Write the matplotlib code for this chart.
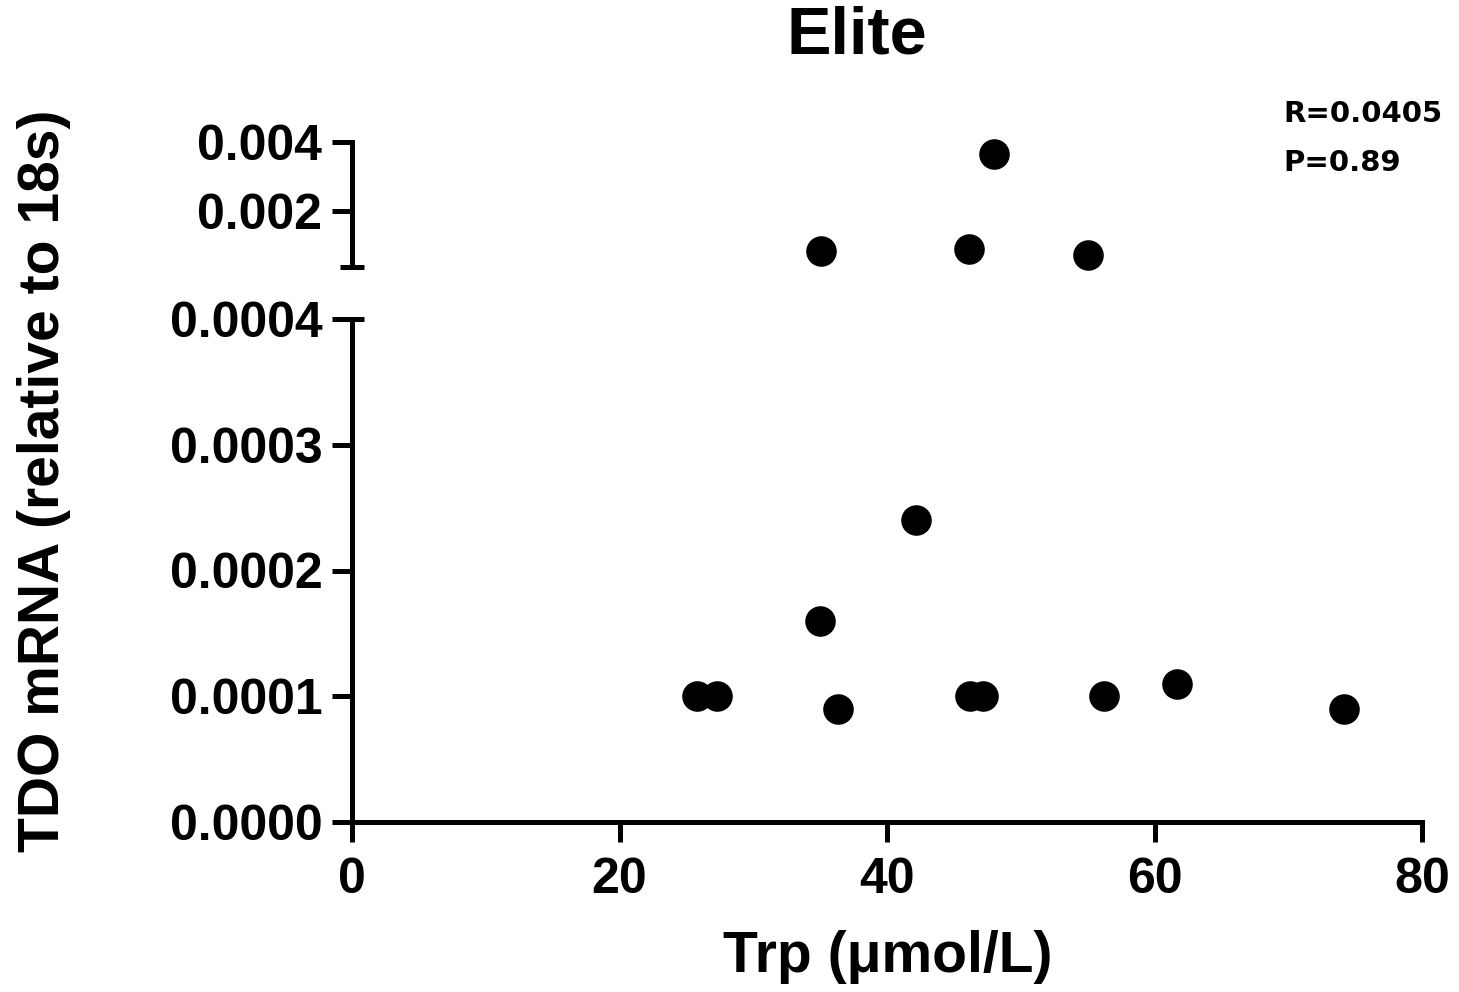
import matplotlib
matplotlib.use("Agg")
import matplotlib.pyplot as plt

# Elite group: Trp vs TDO mRNA
trp_low = [25.8, 27.3, 35.0, 36.3, 42.2, 46.2, 47.2, 56.2, 61.7, 74.2]
tdo_low = [0.00010, 0.00010, 0.00016, 0.00009, 0.00024, 0.00010, 0.00010, 0.00010, 0.00011, 0.00009]
trp_high = [35.1, 46.1, 48.0, 55.0]
tdo_high = [0.00086, 0.00092, 0.00365, 0.00075]

low_ticks = [0.0, 0.0001, 0.0002, 0.0003, 0.0004]
low_labels = ["0.0000", "0.0001", "0.0002", "0.0003", "0.0004"]
high_ticks = [0.002, 0.004]
high_labels = ["0.002", "0.004"]
x_ticks = [0, 20, 40, 60, 80]

plt.rcParams['font.family'] = ['Liberation Sans', 'DejaVu Sans']
plt.rcParams['font.weight'] = 'bold'

W, H = 1459, 992
fig = plt.figure(figsize=(W / 100, H / 100), dpi=100)
lw = 3.6

ax = fig.add_axes([352 / W, 1 - 822 / H, (1422 - 352) / W, (822 - 319) / H])
ax2 = fig.add_axes([352 / W, 1 - 267 / H, (1422 - 352) / W, (267 - 142) / H])

for a in (ax, ax2):
    a.spines['top'].set_visible(False)
    a.spines['right'].set_visible(False)
    a.spines['left'].set_linewidth(lw)
    a.spines['bottom'].set_linewidth(lw)
    a.tick_params(width=lw, length=14.4, labelsize=36)
    a.set_xlim(0, 80)
    a.patch.set_alpha(0)

ax.plot(trp_low, tdo_low, 'o', color='black', markersize=21, clip_on=False)
ax.set_ylim(0, 0.0004)
ax.set_yticks(low_ticks, low_labels)
ax.set_xticks(x_ticks)
ax.tick_params(axis='y', pad=7)
ax.tick_params(axis='x', pad=11)
for lab in ax.get_xticklabels() + ax.get_yticklabels():
    lab.set_fontweight('bold')

ax2.plot(trp_high, tdo_high, 'o', color='black', markersize=21, clip_on=False)
ax2.set_ylim(0.0004, 0.004)
ax2.set_yticks(high_ticks, high_labels)
ax2.tick_params(axis='y', pad=7)
ax2.spines['bottom'].set_visible(False)
ax2.xaxis.set_visible(False)
for lab in ax2.get_yticklabels():
    lab.set_fontweight('bold')

# break caps on the y axis
cap = 12 / (1422 - 352)
ax.plot([-cap, cap], [1, 1], transform=ax.transAxes, color='black', lw=lw,
        clip_on=False, solid_capstyle='butt')
ax2.plot([-cap, cap], [0, 0], transform=ax2.transAxes, color='black', lw=lw,
         clip_on=False, solid_capstyle='butt')

fig.text(857 / W, 1 - 37 / H, "Elite", fontsize=48, fontweight='bold',
         ha='center', va='center')
fig.text(888 / W, 1 - 957 / H, "Trp (\u03bcmol/L)", fontsize=41, fontweight='bold',
         ha='center', va='center')
fig.text(44 / W, 1 - 481 / H, "TDO mRNA (relative to 18s)", fontsize=41,
         fontweight='bold', rotation=90, ha='center', va='center')
fig.text(1283 / W, 1 - 114 / H, "R=0.0405", fontsize=21, fontweight='bold',
         family=['DejaVu Sans'], ha='left', va='center')
fig.text(1283 / W, 1 - 163 / H, "P=0.89", fontsize=21, fontweight='bold',
         family=['DejaVu Sans'], ha='left', va='center')

fig.savefig("out.png", dpi=100)
